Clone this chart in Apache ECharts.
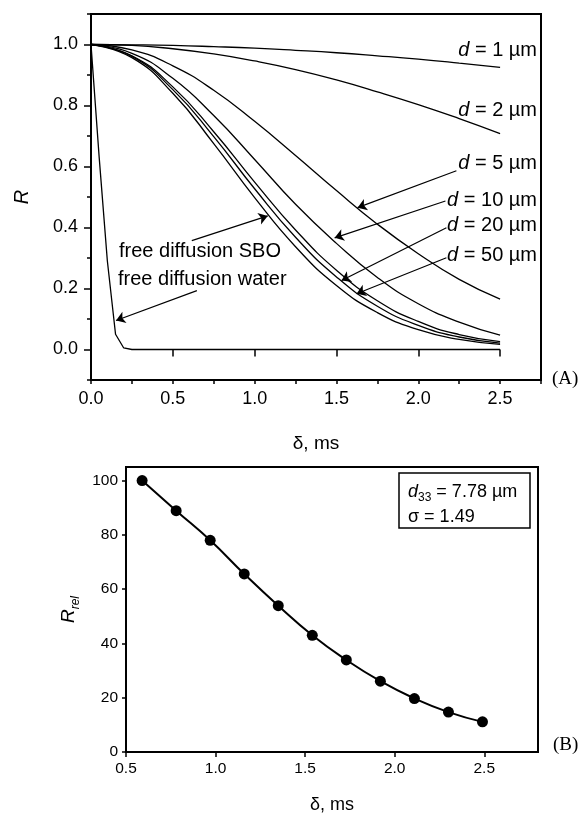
<!DOCTYPE html>
<html>
<head>
<meta charset="utf-8">
<script src="https://cdn.jsdelivr.net/npm/echarts@6/dist/echarts.min.js"></script>
<style>
  html, body { margin: 0; background: #fff; }
  #chart { width: 584px; height: 815px; }
</style>
</head>
<body>
<div id="chart"></div>
<script>
// (A) echo attenuation R vs gradient pulse length delta
const deltaA = [0, 0.25, 0.5, 0.75, 1.0, 1.25, 1.5, 1.75, 2.0, 2.25, 2.5]
const rD1 = [1.000, 0.999, 0.997, 0.993, 0.988, 0.981, 0.973, 0.963, 0.952, 0.939, 0.925]
const rD2 = [1.000, 0.997, 0.986, 0.969, 0.946, 0.918, 0.884, 0.845, 0.803, 0.757, 0.708]
const rD5 = [1.000, 0.982, 0.930, 0.850, 0.748, 0.636, 0.521, 0.411, 0.314, 0.230, 0.165]
const rD10 = [1.000, 0.971, 0.889, 0.767, 0.623, 0.476, 0.348, 0.236, 0.150, 0.090, 0.047]
const rD20 = [1.000, 0.963, 0.861, 0.714, 0.549, 0.392, 0.260, 0.160, 0.092, 0.049, 0.026]
const rD50 = [1.000, 0.961, 0.852, 0.698, 0.527, 0.368, 0.238, 0.142, 0.079, 0.041, 0.021]
const rSBO = [1.000, 0.957, 0.840, 0.675, 0.498, 0.337, 0.210, 0.121, 0.065, 0.033, 0.017]
const deltaWater = [0, 0.05, 0.1, 0.15, 0.2, 0.25, 2.5]
const rWater = [1.000, 0.630, 0.290, 0.050, 0.005, 0.000, 0.000]

const ticksAY = [0, 0.2, 0.4, 0.6, 0.8, 1.0]
const ticksAX = [0, 0.5, 1.0, 1.5, 2.0, 2.5]

// arrows: [fromDelta, fromR, toDelta, toR]
const arrowsA = [
  [2.233, 0.586, 1.629, 0.465],
  [2.166, 0.487, 1.489, 0.366],
  [2.172, 0.399, 1.531, 0.226],
  [2.172, 0.301, 1.623, 0.183],
  [0.616, 0.357, 1.080, 0.438],
  [0.647, 0.193, 0.153, 0.095],
]

// (B) relative R vs delta
const deltaB = [0.59, 0.78, 0.97, 1.16, 1.35, 1.54, 1.73, 1.92, 2.11, 2.30, 2.49]
const rRel = [100, 88.9, 78.0, 65.6, 53.9, 43.0, 33.9, 26.1, 19.7, 14.7, 11.1]
const ticksBY = [0, 20, 40, 60, 80, 100]
const ticksBX = [0.5, 1.0, 1.5, 2.0, 2.5]

const FONT = 'Arial, "Liberation Sans", sans-serif'
const SERIF = '"Liberation Serif", "Times New Roman", serif'

const chart = echarts.init(document.getElementById('chart'))

const pairs = (xs, ys) => xs.map((x, i) => [x, ys[i]])

function curve(name, xs, ys, smooth) {
  return {
    name,
    type: 'line',
    xAxisIndex: 0,
    yAxisIndex: 0,
    data: pairs(xs, ys),
    smooth,
    symbol: 'none',
    silent: true,
    lineStyle: { color: '#000', width: 1.3 },
  }
}

const axisLine = { show: true, onZero: false, lineStyle: { color: '#000', width: 2 } }

const water = curve('free diffusion water', deltaWater, rWater, false)
water.markLine = {
  silent: true,
  animation: false,
  symbol: ['none', 'arrow'],
  symbolSize: 9,
  label: { show: false },
  itemStyle: { color: '#000' },
  lineStyle: { color: '#000', width: 1.2, type: 'solid' },
  emphasis: { disabled: true },
  data: arrowsA.map((a) => [{ coord: [a[0], a[1]] }, { coord: [a[2], a[3]] }]),
}

const dText = (txt, y) => ({
  type: 'text',
  x: 537,
  y,
  style: {
    text: txt,
    fontSize: 20,
    fontFamily: FONT,
    fill: '#000',
    align: 'right',
    verticalAlign: 'middle',
    rich: { i: { fontStyle: 'italic', fontSize: 20, fontFamily: FONT } },
  },
})

const plainText = (txt, x, y, size, family) => ({
  type: 'text',
  x,
  y,
  style: { text: txt, fontSize: size, fontFamily: family, fill: '#000', align: 'left', verticalAlign: 'middle' },
})

chart.setOption({
  animation: false,
  backgroundColor: '#fff',
  grid: [
    { left: 91, right: 43, top: 14, bottom: 435, show: true, borderColor: '#000', borderWidth: 2 },
    { left: 126, right: 46, top: 467, bottom: 59, show: true, borderColor: '#000', borderWidth: 2 },
  ],
  xAxis: [
    {
      type: 'value', gridIndex: 0, min: 0, max: 2.75, interval: 0.25,
      axisLine, splitLine: { show: false },
      axisTick: { length: 4, lineStyle: { color: '#000', width: 1.5 } },
      axisLabel: {
        customValues: ticksAX, margin: 10, color: '#000', fontSize: 18, fontFamily: FONT,
        formatter: (v) => v.toFixed(1),
      },
      name: 'δ, ms', nameLocation: 'middle', nameGap: 54,
      nameTextStyle: { color: '#000', fontSize: 19, fontFamily: FONT },
    },
    {
      type: 'value', gridIndex: 0, min: 0, max: 2.75, position: 'bottom',
      axisLine: { show: false }, splitLine: { show: false }, axisLabel: { show: false },
      axisTick: { customValues: ticksAX, length: 7, lineStyle: { color: '#000', width: 1.5 } },
    },
    {
      type: 'value', gridIndex: 1, min: 0.5, max: 2.8, interval: 0.5,
      axisLine, splitLine: { show: false },
      axisTick: { customValues: ticksBX, length: 5, lineStyle: { color: '#000', width: 1.5 } },
      axisLabel: {
        customValues: ticksBX, margin: 9, color: '#000', fontSize: 15.5, fontFamily: FONT,
        formatter: (v) => v.toFixed(1),
      },
      name: 'δ, ms', nameLocation: 'middle', nameGap: 44,
      nameTextStyle: { color: '#000', fontSize: 18, fontFamily: FONT },
    },
  ],
  yAxis: [
    {
      type: 'value', gridIndex: 0, min: -0.1, max: 1.1, interval: 0.1,
      axisLine, splitLine: { show: false },
      axisTick: { length: 4, lineStyle: { color: '#000', width: 1.5 } },
      axisLabel: {
        customValues: ticksAY, margin: 13, color: '#000', fontSize: 18, fontFamily: FONT,
        formatter: (v) => v.toFixed(1),
      },
      name: 'R', nameLocation: 'middle', nameGap: 59, nameRotate: 90,
      nameTextStyle: { color: '#000', fontSize: 20, fontStyle: 'italic', fontFamily: FONT },
    },
    {
      type: 'value', gridIndex: 0, min: -0.1, max: 1.1, position: 'left',
      axisLine: { show: false }, splitLine: { show: false }, axisLabel: { show: false },
      axisTick: { customValues: ticksAY, length: 7, lineStyle: { color: '#000', width: 1.5 } },
    },
    {
      type: 'value', gridIndex: 1, min: 0, max: 105, interval: 20,
      axisLine, splitLine: { show: false },
      axisTick: { customValues: ticksBY, length: 4, lineStyle: { color: '#000', width: 1.5 } },
      axisLabel: { customValues: ticksBY, margin: 8, color: '#000', fontSize: 15.5, fontFamily: FONT },
      name: '{r|R}{s|rel}', nameLocation: 'middle', nameGap: 42, nameRotate: 90,
      nameTextStyle: {
        color: '#000',
        rich: {
          r: { fontSize: 19, fontStyle: 'italic', fontFamily: FONT, lineHeight: 26, color: '#000' },
          s: { fontSize: 12, fontStyle: 'italic', fontFamily: FONT, verticalAlign: 'bottom', color: '#000' },
        },
      },
    },
  ],
  series: [
    curve('d = 1 µm', deltaA, rD1, true),
    curve('d = 2 µm', deltaA, rD2, true),
    curve('d = 5 µm', deltaA, rD5, true),
    curve('d = 10 µm', deltaA, rD10, true),
    curve('d = 20 µm', deltaA, rD20, true),
    curve('d = 50 µm', deltaA, rD50, true),
    curve('free diffusion SBO', deltaA, rSBO, true),
    water,
    {
      name: 'fit',
      type: 'line',
      xAxisIndex: 2,
      yAxisIndex: 2,
      data: pairs(deltaB, rRel),
      smooth: true,
      symbol: 'none',
      silent: true,
      lineStyle: { color: '#000', width: 2 },
    },
    {
      name: 'Rrel',
      type: 'scatter',
      xAxisIndex: 2,
      yAxisIndex: 2,
      data: pairs(deltaB, rRel),
      symbolSize: 11,
      silent: true,
      itemStyle: { color: '#000', opacity: 1 },
    },
  ],
  graphic: [
    dText('{i|d} = 1 µm', 50),
    dText('{i|d} = 2 µm', 110),
    dText('{i|d} = 5 µm', 163),
    dText('{i|d} = 10 µm', 200),
    dText('{i|d} = 20 µm', 225),
    dText('{i|d} = 50 µm', 255),
    plainText('free diffusion SBO', 119, 251, 20, FONT),
    plainText('free diffusion water', 118, 279, 20, FONT),
    plainText('(A)', 552, 379, 19, SERIF),
    plainText('(B)', 553, 745, 19, SERIF),
    {
      type: 'rect',
      shape: { x: 399, y: 473, width: 131, height: 55 },
      style: { fill: '#fff', stroke: '#000', lineWidth: 1.5 },
    },
    {
      type: 'text',
      x: 408,
      y: 492,
      style: {
        text: '{i|d}{s|33} = 7.78 µm',
        fontSize: 18,
        fontFamily: FONT,
        fill: '#000',
        align: 'left',
        verticalAlign: 'middle',
        rich: {
          i: { fontStyle: 'italic', fontSize: 18, fontFamily: FONT, lineHeight: 24 },
          s: { fontSize: 12, fontFamily: FONT, verticalAlign: 'bottom' },
        },
      },
    },
    plainText('σ = 1.49', 408, 517, 18, FONT),
  ],
})

window.addEventListener('resize', () => chart.resize())
</script>
</body>
</html>
